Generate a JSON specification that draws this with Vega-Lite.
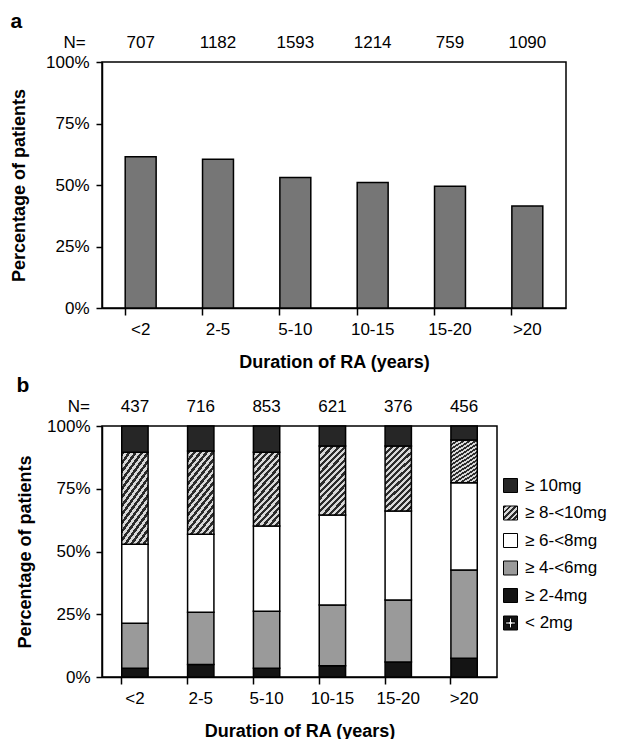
{
  "$schema": "https://vega.github.io/schema/vega-lite/v6.json",
  "padding": {"left": 9, "top": 10, "right": 5, "bottom": 2},
  "config": {
    "font": "Liberation Sans",
    "view": {"stroke": "black", "strokeWidth": 1.5},
    "axis": {"labelFont": "Liberation Sans", "labelFontSize": 17, "labelColor": "black", "titleFont": "Liberation Sans", "titleFontSize": 18, "titleFontWeight": "bold", "titleColor": "black", "domainColor": "black", "domainWidth": 1.5, "tickColor": "black", "tickWidth": 1.5, "grid": false},
    "title": {"font": "Liberation Sans", "fontSize": 21, "fontWeight": "bold", "anchor": "start", "frame": "bounds", "color": "black"},
    "concat": {"spacing": 2}
  },
  "datasets": {
    "panelA": [
      {"dur": "<2", "N": 707, "pct": 61.5},
      {"dur": "2-5", "N": 1182, "pct": 60.5},
      {"dur": "5-10", "N": 1593, "pct": 53},
      {"dur": "10-15", "N": 1214, "pct": 51},
      {"dur": "15-20", "N": 759, "pct": 49.5},
      {"dur": ">20", "N": 1090, "pct": 41.5}
    ],
    "panelBN": [
      {"dur": "<2", "N": 437},
      {"dur": "2-5", "N": 716},
      {"dur": "5-10", "N": 853},
      {"dur": "10-15", "N": 621},
      {"dur": "15-20", "N": 376},
      {"dur": ">20", "N": 456}
    ],
    "panelB": [
      {"dur": "<2", "dose": "< 2mg", "rank": 1, "pct": 0},
      {"dur": "<2", "dose": "≥ 2-4mg", "rank": 2, "pct": 3.5},
      {"dur": "<2", "dose": "≥ 4-<6mg", "rank": 3, "pct": 17.9},
      {"dur": "<2", "dose": "≥ 6-<8mg", "rank": 4, "pct": 31.5},
      {"dur": "<2", "dose": "≥ 8-<10mg", "rank": 5, "pct": 36.6},
      {"dur": "<2", "dose": "≥ 10mg", "rank": 6, "pct": 10.5},
      {"dur": "2-5", "dose": "< 2mg", "rank": 1, "pct": 0},
      {"dur": "2-5", "dose": "≥ 2-4mg", "rank": 2, "pct": 5},
      {"dur": "2-5", "dose": "≥ 4-<6mg", "rank": 3, "pct": 20.8},
      {"dur": "2-5", "dose": "≥ 6-<8mg", "rank": 4, "pct": 31.1},
      {"dur": "2-5", "dose": "≥ 8-<10mg", "rank": 5, "pct": 33.1},
      {"dur": "2-5", "dose": "≥ 10mg", "rank": 6, "pct": 10},
      {"dur": "5-10", "dose": "< 2mg", "rank": 1, "pct": 0},
      {"dur": "5-10", "dose": "≥ 2-4mg", "rank": 2, "pct": 3.5},
      {"dur": "5-10", "dose": "≥ 4-<6mg", "rank": 3, "pct": 22.7},
      {"dur": "5-10", "dose": "≥ 6-<8mg", "rank": 4, "pct": 34},
      {"dur": "5-10", "dose": "≥ 8-<10mg", "rank": 5, "pct": 29.3},
      {"dur": "5-10", "dose": "≥ 10mg", "rank": 6, "pct": 10.5},
      {"dur": "10-15", "dose": "< 2mg", "rank": 1, "pct": 0},
      {"dur": "10-15", "dose": "≥ 2-4mg", "rank": 2, "pct": 4.5},
      {"dur": "10-15", "dose": "≥ 4-<6mg", "rank": 3, "pct": 24.2},
      {"dur": "10-15", "dose": "≥ 6-<8mg", "rank": 4, "pct": 35.8},
      {"dur": "10-15", "dose": "≥ 8-<10mg", "rank": 5, "pct": 27.5},
      {"dur": "10-15", "dose": "≥ 10mg", "rank": 6, "pct": 8},
      {"dur": "15-20", "dose": "< 2mg", "rank": 1, "pct": 0},
      {"dur": "15-20", "dose": "≥ 2-4mg", "rank": 2, "pct": 6},
      {"dur": "15-20", "dose": "≥ 4-<6mg", "rank": 3, "pct": 24.7},
      {"dur": "15-20", "dose": "≥ 6-<8mg", "rank": 4, "pct": 35.4},
      {"dur": "15-20", "dose": "≥ 8-<10mg", "rank": 5, "pct": 25.9},
      {"dur": "15-20", "dose": "≥ 10mg", "rank": 6, "pct": 8},
      {"dur": ">20", "dose": "< 2mg", "rank": 1, "pct": 0},
      {"dur": ">20", "dose": "≥ 2-4mg", "rank": 2, "pct": 7.5},
      {"dur": ">20", "dose": "≥ 4-<6mg", "rank": 3, "pct": 35.1},
      {"dur": ">20", "dose": "≥ 6-<8mg", "rank": 4, "pct": 34.8},
      {"dur": ">20", "dose": "≥ 8-<10mg", "rank": 5, "pct": 17},
      {"dur": ">20", "dose": "≥ 10mg", "rank": 6, "pct": 5.6}
    ]
  },
  "columns": 1,
  "align": "none",
  "resolve": {"legend": {"fill": "independent"}},
  "concat": [
    {
      "title": {"text": "a", "offset": 2},
      "width": 464,
      "height": 246,
      "layer": [
        {
          "data": {"name": "panelA"},
          "mark": {"type": "bar", "fill": "#767676", "stroke": "black", "strokeWidth": 1.5},
          "encoding": {
            "x": {"field": "dur", "type": "nominal", "sort": null,
                  "scale": {"paddingInner": 0.6, "paddingOuter": 0.3},
                  "axis": {"title": "Duration of RA (years)", "labelAngle": 0, "tickSize": 7, "bandPosition": 0, "labelPadding": 6, "titlePadding": 16}},
            "y": {"field": "pct", "type": "quantitative",
                  "scale": {"domain": [0, 100]},
                  "axis": {"title": "Percentage of patients", "values": [0, 25, 50, 75, 100], "labelExpr": "datum.value + '%'", "tickSize": 6, "labelPadding": 7, "titlePadding": 17}}
          }
        },
        {
          "data": {"name": "panelA"},
          "mark": {"type": "text", "fontSize": 17, "dy": -19, "baseline": "middle", "color": "black"},
          "encoding": {
            "x": {"field": "dur", "type": "nominal", "sort": null},
            "y": {"datum": 100, "type": "quantitative"},
            "text": {"field": "N", "type": "nominal"}
          }
        },
        {
          "data": {"values": [{"lab": "N=", "dur": "<2"}]},
          "mark": {"type": "text", "fontSize": 17, "dy": -19, "dx": -55, "align": "right", "baseline": "middle", "color": "black"},
          "encoding": {
            "x": {"field": "dur", "type": "nominal", "sort": null},
            "y": {"datum": 100, "type": "quantitative"},
            "text": {"field": "lab", "type": "nominal"}
          }
        }
      ]
    },
    {
      "title": {"text": "b", "offset": 2},
      "width": 395,
      "height": 251,
      "layer": [
        {
          "data": {"name": "panelB"},
          "mark": {"type": "bar", "stroke": "black", "strokeWidth": 1.5},
          "encoding": {
            "x": {"field": "dur", "type": "nominal", "sort": null,
                  "scale": {"paddingInner": 0.6, "paddingOuter": 0.3},
                  "axis": {"title": "Duration of RA (years)", "labelAngle": 0, "tickSize": 7, "bandPosition": 0, "labelPadding": 6, "titlePadding": 16}},
            "y": {"field": "pct", "type": "quantitative", "stack": "zero",
                  "scale": {"domain": [0, 100]},
                  "axis": {"title": "Percentage of patients", "values": [0, 25, 50, 75, 100], "labelExpr": "datum.value + '%'", "tickSize": 6, "labelPadding": 6, "titlePadding": 12}},
            "fill": {
              "condition": {"test": "datum.dose === '≥ 8-<10mg'",
                "value": {"gradient": "linear", "x1": 0, "y1": 0, "x2": 0.48, "y2": 1.21, "stops": [
                  {"offset": 0, "color": "#2b2b2b"}, {"offset": 0.0333, "color": "#2b2b2b"}, {"offset": 0.0333, "color": "#d8d8d8"}, {"offset": 0.0667, "color": "#d8d8d8"},
                  {"offset": 0.0667, "color": "#2b2b2b"}, {"offset": 0.1, "color": "#2b2b2b"}, {"offset": 0.1, "color": "#d8d8d8"}, {"offset": 0.1333, "color": "#d8d8d8"},
                  {"offset": 0.1333, "color": "#2b2b2b"}, {"offset": 0.1667, "color": "#2b2b2b"}, {"offset": 0.1667, "color": "#d8d8d8"}, {"offset": 0.2, "color": "#d8d8d8"},
                  {"offset": 0.2, "color": "#2b2b2b"}, {"offset": 0.2333, "color": "#2b2b2b"}, {"offset": 0.2333, "color": "#d8d8d8"}, {"offset": 0.2667, "color": "#d8d8d8"},
                  {"offset": 0.2667, "color": "#2b2b2b"}, {"offset": 0.3, "color": "#2b2b2b"}, {"offset": 0.3, "color": "#d8d8d8"}, {"offset": 0.3333, "color": "#d8d8d8"},
                  {"offset": 0.3333, "color": "#2b2b2b"}, {"offset": 0.3667, "color": "#2b2b2b"}, {"offset": 0.3667, "color": "#d8d8d8"}, {"offset": 0.4, "color": "#d8d8d8"},
                  {"offset": 0.4, "color": "#2b2b2b"}, {"offset": 0.4333, "color": "#2b2b2b"}, {"offset": 0.4333, "color": "#d8d8d8"}, {"offset": 0.4667, "color": "#d8d8d8"},
                  {"offset": 0.4667, "color": "#2b2b2b"}, {"offset": 0.5, "color": "#2b2b2b"}, {"offset": 0.5, "color": "#d8d8d8"}, {"offset": 0.5333, "color": "#d8d8d8"},
                  {"offset": 0.5333, "color": "#2b2b2b"}, {"offset": 0.5667, "color": "#2b2b2b"}, {"offset": 0.5667, "color": "#d8d8d8"}, {"offset": 0.6, "color": "#d8d8d8"},
                  {"offset": 0.6, "color": "#2b2b2b"}, {"offset": 0.6333, "color": "#2b2b2b"}, {"offset": 0.6333, "color": "#d8d8d8"}, {"offset": 0.6667, "color": "#d8d8d8"},
                  {"offset": 0.6667, "color": "#2b2b2b"}, {"offset": 0.7, "color": "#2b2b2b"}, {"offset": 0.7, "color": "#d8d8d8"}, {"offset": 0.7333, "color": "#d8d8d8"},
                  {"offset": 0.7333, "color": "#2b2b2b"}, {"offset": 0.7667, "color": "#2b2b2b"}, {"offset": 0.7667, "color": "#d8d8d8"}, {"offset": 0.8, "color": "#d8d8d8"},
                  {"offset": 0.8, "color": "#2b2b2b"}, {"offset": 0.8333, "color": "#2b2b2b"}, {"offset": 0.8333, "color": "#d8d8d8"}, {"offset": 0.8667, "color": "#d8d8d8"},
                  {"offset": 0.8667, "color": "#2b2b2b"}, {"offset": 0.9, "color": "#2b2b2b"}, {"offset": 0.9, "color": "#d8d8d8"}, {"offset": 0.9333, "color": "#d8d8d8"},
                  {"offset": 0.9333, "color": "#2b2b2b"}, {"offset": 0.9667, "color": "#2b2b2b"}, {"offset": 0.9667, "color": "#d8d8d8"}, {"offset": 1, "color": "#d8d8d8"}
                ]}},
              "field": "dose", "type": "nominal",
              "scale": {"domain": ["≥ 10mg", "≥ 8-<10mg", "≥ 6-<8mg", "≥ 4-<6mg", "≥ 2-4mg", "< 2mg"],
                        "range": ["#262626",
                          {"expr": "{gradient: 'linear', x1: 0, y1: 0, x2: 1, y2: 1, stops: [{offset: 0, color: '#2b2b2b'}, {offset: 0.1, color: '#2b2b2b'}, {offset: 0.1, color: '#d8d8d8'}, {offset: 0.2, color: '#d8d8d8'}, {offset: 0.2, color: '#2b2b2b'}, {offset: 0.3, color: '#2b2b2b'}, {offset: 0.3, color: '#d8d8d8'}, {offset: 0.4, color: '#d8d8d8'}, {offset: 0.4, color: '#2b2b2b'}, {offset: 0.5, color: '#2b2b2b'}, {offset: 0.5, color: '#d8d8d8'}, {offset: 0.6, color: '#d8d8d8'}, {offset: 0.6, color: '#2b2b2b'}, {offset: 0.7, color: '#2b2b2b'}, {offset: 0.7, color: '#d8d8d8'}, {offset: 0.8, color: '#d8d8d8'}, {offset: 0.8, color: '#2b2b2b'}, {offset: 0.9, color: '#2b2b2b'}, {offset: 0.9, color: '#d8d8d8'}, {offset: 1, color: '#d8d8d8'}]}"},
                          "#ffffff", "#9a9a9a", "#141414", "#141414"]},
              "legend": {"title": null, "orient": "none", "legendX": 400, "legendY": 51, "symbolType": "square", "symbolSize": 196, "symbolStrokeColor": "black", "symbolStrokeWidth": 1, "symbolOpacity": 1, "labelFontSize": 17, "labelColor": "black", "rowPadding": 8.5, "labelOffset": 6,
                "encode": {"symbols": {"update": {
                  "stroke": {"value": "black"},
                  "strokeWidth": {"value": 1},
                  "shape": {"signal": "datum.label === '< 2mg' ? 'M-1,-1H1V1H-1Z M-0.15,-0.7V-0.15H-0.7V0.15H-0.15V0.7H0.15V0.15H0.7V-0.15H0.15V-0.7Z' : 'square'"}
                }}}}},
            "order": {"field": "rank", "type": "quantitative"}
          }
        },
        {
          "data": {"name": "panelBN"},
          "mark": {"type": "text", "fontSize": 17, "dy": -19, "baseline": "middle", "color": "black"},
          "encoding": {
            "x": {"field": "dur", "type": "nominal", "sort": null},
            "y": {"datum": 100, "type": "quantitative"},
            "text": {"field": "N", "type": "nominal"}
          }
        },
        {
          "data": {"values": [{"lab": "N=", "dur": "<2"}]},
          "mark": {"type": "text", "fontSize": 17, "dy": -19, "dx": -45, "align": "right", "baseline": "middle", "color": "black"},
          "encoding": {
            "x": {"field": "dur", "type": "nominal", "sort": null},
            "y": {"datum": 100, "type": "quantitative"},
            "text": {"field": "lab", "type": "nominal"}
          }
        }
      ]
    }
  ]
}
